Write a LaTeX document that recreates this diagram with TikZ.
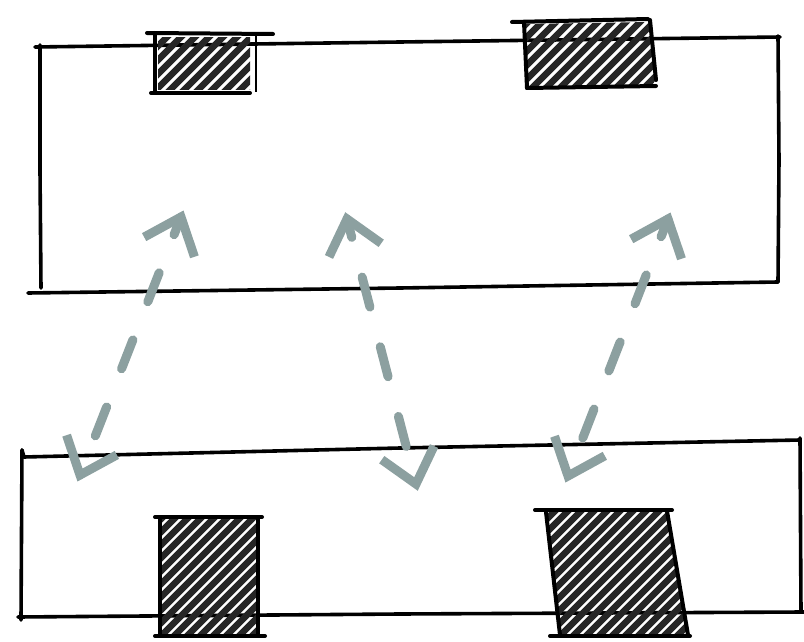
\documentclass[tikz,border=0pt]{standalone}
\usetikzlibrary{calc}
\definecolor{arrowgray}{RGB}{140,160,160}
\tikzset{
 edge/.style={line width=3.6pt, black, line cap=round, line join=round},
 boxedge/.style={line width=4pt, black, line cap=round},
 hatch/.style={line width=6.5pt, black!85, line cap=round},
 shaft/.style={line width=9pt, arrowgray, line cap=round, dash pattern=on 31pt off 41pt, dash phase=12pt},
 head/.style={line width=9pt, arrowgray, line cap=butt, line join=miter},
}
\begin{document}
\begin{tikzpicture}[x=1pt,y=-1pt]
\useasboundingbox (0,0) rectangle (804,642);
% ---------- top rectangle ----------
\draw[edge] (35,47) -- (400,42) -- (780,37);
\draw[edge] (40,45) -- (40,170) -- (41,288);
\draw[edge] (28,293) -- (400,288) -- (778,282);
\draw[edge] (778,36) -- (779,160) -- (778,282);
% top box 1
\begin{scope}
 \clip (158,38) rectangle (250,90);
 \foreach \i in {0,14,...,200} \draw[hatch] (90+\i,100) -- ++(70,-70);
\end{scope}
\draw[boxedge] (147,33) -- (273,34);
\draw[boxedge] (155,33) -- (155,92);
\draw[line width=2.8pt] (256,34) -- (256,92);
\draw[boxedge] (151,93) -- (250,93);
% top box 2
\begin{scope}
 \clip (525,24) -- (650,22) -- (655,86) -- (527,86) -- cycle;
 \foreach \i in {0,14,...,220} \draw[hatch] (450+\i,100) -- ++(80,-80);
\end{scope}
\draw[boxedge] (512,22) -- (648,19);
\draw[boxedge] (524,22) -- (527,88);
\draw[boxedge] (650,20) -- (656,80);
\draw[boxedge] (527,88) -- (656,86);
% ---------- bottom rectangle ----------
\draw[edge] (22,450) -- (24,457) -- (400,448) -- (800,440);
\draw[edge] (22,450) -- (21,620);
\draw[edge] (18,617) -- (400,614) -- (804,612);
\draw[edge] (800,438) -- (801,612);
% bottom box 1
\begin{scope}
 \clip (160,518) rectangle (258,635);
 \foreach \i in {0,13,...,260} \draw[hatch] (40+\i,640) -- ++(130,-130);
\end{scope}
\draw[boxedge] (155,517) -- (262,517);
\draw[boxedge] (160,517) -- (160,635);
\draw[boxedge] (258,517) -- (258,635);
\draw[boxedge] (155,636) -- (265,636);
% bottom box 2
\begin{scope}
 \clip (546,512) -- (668,511) -- (688,634) -- (560,634) -- cycle;
 \foreach \i in {0,13,...,300} \draw[hatch] (400+\i,640) -- ++(140,-140);
\end{scope}
\draw[boxedge] (535,510) -- (672,510);
\draw[boxedge] (546,512) -- (560,635);
\draw[boxedge] (667,511) -- (688,635);
\draw[boxedge] (550,636) -- (690,636);
% ---------- arrows ----------
\coordinate (a1t) at (181,217);
\coordinate (a1b) at (80,475);
\coordinate (a2t) at (347,219);
\coordinate (a2b) at (416,484);
\coordinate (a3t) at (668,219);
\coordinate (a3b) at (568,476);
\foreach \t/\b in {a1t/a1b,a2t/a2b,a3t/a3b}{
 \draw[shaft] (\t) -- (\b);
 \draw[head] ($(\t)!42pt!40:(\b)$) -- (\t) -- ($(\t)!42pt!-40:(\b)$);
 \draw[head] ($(\b)!42pt!40:(\t)$) -- (\b) -- ($(\b)!42pt!-40:(\t)$);
}
\end{tikzpicture}
\end{document}
